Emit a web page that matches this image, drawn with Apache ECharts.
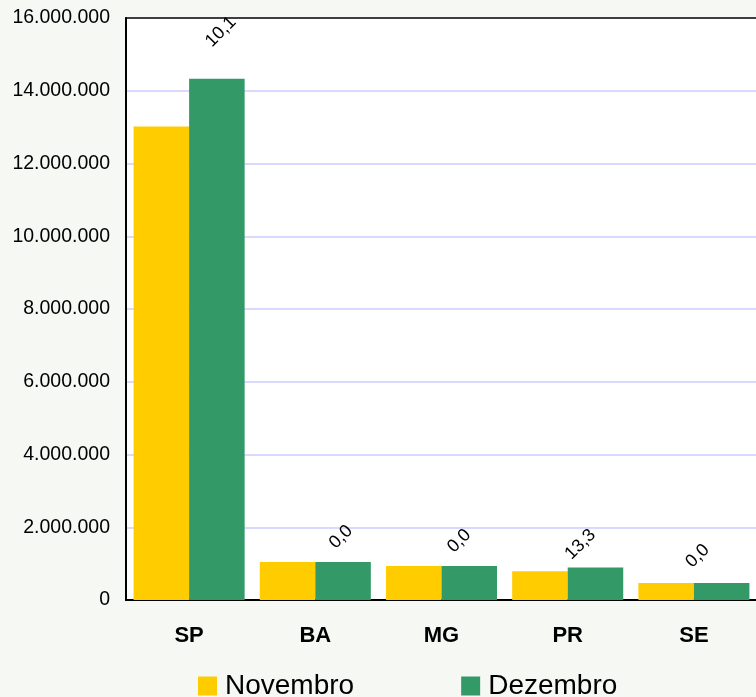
<!DOCTYPE html>
<html><head><meta charset="utf-8">
<script src="https://cdn.jsdelivr.net/npm/echarts@6/dist/echarts.min.js"></script>
<style>html,body{margin:0;padding:0;background:#f6f8f4}#c{width:756px;height:697px}</style>
</head><body><div id="c"></div>
<script>
const categories = ['SP','BA','MG','PR','SE'];
const novembro = [13020000, 1045000, 935000, 790000, 467000];
const dezembro = [14330000, 1045000, 935000, 895000, 467000];
const variacao = ['10,1','0,0','0,0','13,3','0,0'];
const yTicks = {min:0, max:16000000, interval:2000000};

// screen shift of each rotated label centre from its bar's top centre
const labelShift = [[4,-47],[-2,-25],[-10,-25],[-15,-23],[-24,-27]];

function fmt(v){return String(v).replace(/\B(?=(\d{3})+(?!\d))/g,'.');}
const ang = Math.PI/4, c = Math.cos(ang), s = Math.sin(ang);
function localOffset(d){return [d[0]*c - d[1]*s, d[0]*s + d[1]*c];}

const chart = echarts.init(document.getElementById('c'));
chart.setOption({
  backgroundColor:'#f6f8f4',
  animation:false,
  textStyle:{fontFamily:'Liberation Sans, Arial, sans-serif'},
  grid:{left:126,top:18,width:631,height:582,show:true,backgroundColor:'#ffffff',borderColor:'#000',borderWidth:1.5,outerBoundsMode:'none'},
  legend:{top:667,left:193,itemWidth:19,itemHeight:19,itemGap:107,icon:'rect',
    textStyle:{fontSize:28,color:'#000',padding:[0,0,0,3],fontFamily:'Liberation Sans, Arial, sans-serif'},
    data:['Novembro','Dezembro']},
  xAxis:{type:'category',data:categories,
    axisLine:{lineStyle:{color:'#000',width:2}},axisTick:{show:false},
    axisLabel:{fontSize:22,fontWeight:'bold',color:'#000',margin:25}},
  yAxis:{type:'value',min:yTicks.min,max:yTicks.max,interval:yTicks.interval,
    axisLine:{show:true,lineStyle:{color:'#000',width:2}},axisTick:{show:false},
    splitLine:{showMaxLine:false,lineStyle:{color:'#ccccff',width:1.5}},
    axisLabel:{fontSize:19.5,color:'#000',margin:16,formatter:fmt}},
  series:[
    {name:'Novembro',type:'bar',data:novembro,itemStyle:{color:'#ffcc00'},barGap:'0%',barCategoryGap:'12%'},
    {name:'Dezembro',type:'bar',
      data:dezembro.map((v,i)=>({value:v,label:{offset:localOffset(labelShift[i])}})),
      itemStyle:{color:'#339966'},
      label:{show:true,position:'top',distance:0,rotate:45,align:'center',verticalAlign:'middle',
        fontSize:18,color:'#000',formatter:p=>variacao[p.dataIndex]}}
  ]
});
</script></body></html>
